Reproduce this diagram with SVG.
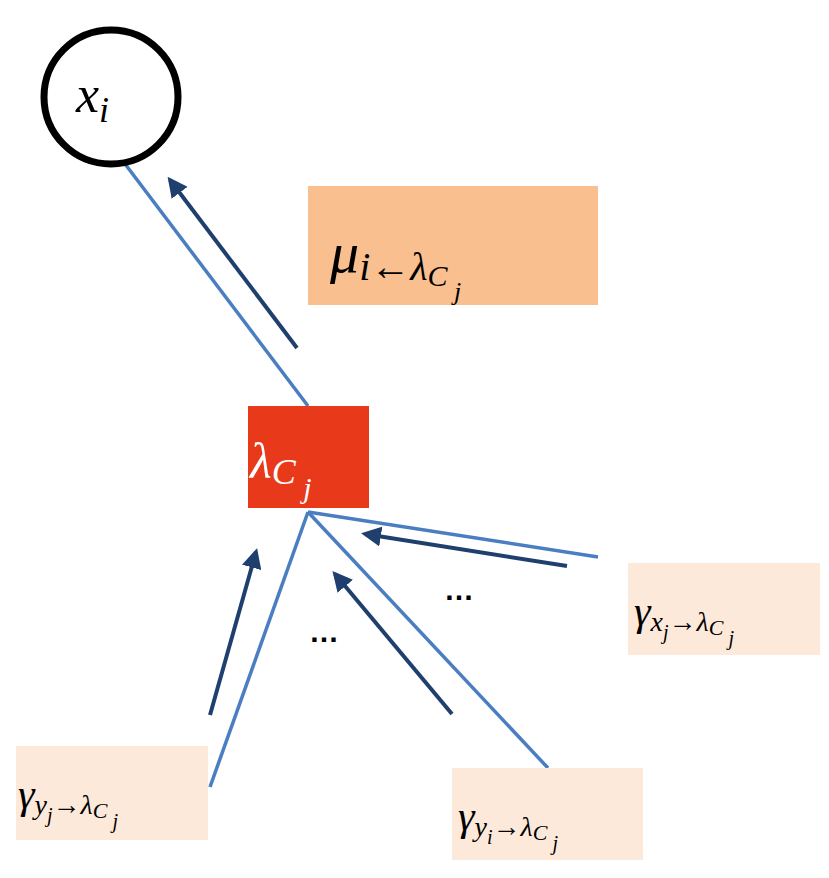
<svg xmlns="http://www.w3.org/2000/svg" width="829" height="878" viewBox="0 0 829 878">
<defs>
<style>
.t{font-family:"Liberation Serif","DejaVu Serif",serif;font-style:italic;fill:#000}
.l{stroke:#4A7EC1;stroke-width:3.5;fill:none}
.a{stroke:#1F3F6E;stroke-width:4;fill:none;marker-end:url(#ah)}
.lb{fill:#FDE9D9}
</style>
<marker id="ah" viewBox="0 0 10 10" refX="8" refY="5" markerWidth="5" markerHeight="5" orient="auto" markerUnits="strokeWidth"><path d="M0,0L10,5L0,10Z" fill="#1F3F6E"/></marker>
</defs>
<rect width="829" height="878" fill="#fff"/>
<g id="connectors">
<line class="l" x1="113" y1="148" x2="308" y2="406"/>
<line class="l" x1="308" y1="512" x2="598" y2="557"/>
<line class="l" x1="308" y1="512" x2="548" y2="768"/>
<line class="l" x1="308" y1="512" x2="210" y2="787"/>
<line class="a" x1="297" y1="348" x2="170" y2="180"/>
<line class="a" x1="567" y1="566" x2="365" y2="534"/>
<line class="a" x1="452" y1="714" x2="335" y2="574"/>
<line class="a" x1="210" y1="715" x2="256" y2="552"/>
</g>
<g id="xi">
<circle cx="111" cy="97" r="67" fill="#fff" stroke="#000" stroke-width="7"/>
<text class="t" x="76" y="112" font-size="52">x<tspan font-size="36" dy="10">i</tspan></text>
</g>
<g id="mu">
<rect x="308" y="186" width="290" height="119" fill="#F9BF8F"/>
<text class="t" x="330" y="272" font-size="58">μ<tspan font-size="40" dy="8">i←λ</tspan><tspan font-size="30" dy="6">C</tspan><tspan font-size="26" dy="14"> j</tspan></text>
</g>
<g id="lambda">
<rect x="248" y="406" width="121" height="102" fill="#E8391A"/>
<text class="t" x="250" y="478" font-size="50" fill="#fff" style="fill:#fff">λ<tspan font-size="36" dy="6">C</tspan><tspan font-size="30" dy="14"> j</tspan></text>
</g>
<g id="gx">
<rect class="lb" x="628" y="563" width="192" height="92"/>
<text class="t" x="634" y="625" font-size="42">γ<tspan font-size="28" dy="6">x</tspan><tspan font-size="20" dy="8">j</tspan><tspan font-size="28" dy="-8">→λ</tspan><tspan font-size="22" dy="4">C</tspan><tspan font-size="20" dy="10"> j</tspan></text>
</g>
<g id="gyi">
<rect class="lb" x="452" y="768" width="191" height="92"/>
<text class="t" x="458" y="830" font-size="42">γ<tspan font-size="28" dy="6">y</tspan><tspan font-size="20" dy="8">i</tspan><tspan font-size="28" dy="-8">→λ</tspan><tspan font-size="22" dy="4">C</tspan><tspan font-size="20" dy="10"> j</tspan></text>
</g>
<g id="gyj">
<rect class="lb" x="16" y="746" width="192" height="94"/>
<text class="t" x="18" y="808" font-size="42">γ<tspan font-size="28" dy="6">y</tspan><tspan font-size="20" dy="8">j</tspan><tspan font-size="28" dy="-8">→λ</tspan><tspan font-size="22" dy="4">C</tspan><tspan font-size="20" dy="10"> j</tspan></text>
</g>
<g id="dots">
<text x="444" y="600" font-family="Liberation Sans,sans-serif" font-weight="bold" font-size="30">…</text>
<text x="309" y="642" font-family="Liberation Sans,sans-serif" font-weight="bold" font-size="30">…</text>
</g>
</svg>
